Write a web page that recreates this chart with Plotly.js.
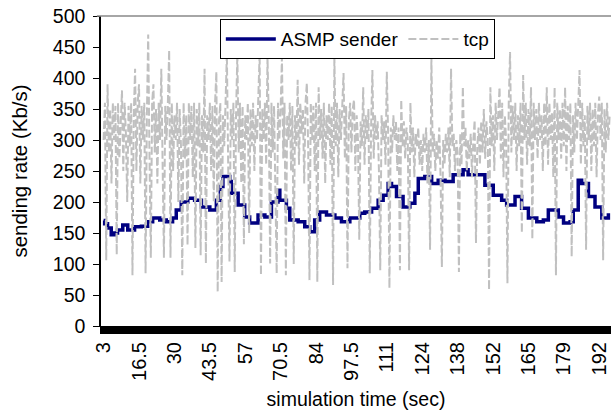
<!DOCTYPE html>
<html>
<head>
<meta charset="utf-8">
<script src="https://cdn.plot.ly/plotly-3.0.1.min.js"></script>
<style>html,body{margin:0;padding:0;background:#fff;}#chart{width:611px;height:415px;}</style>
</head>
<body>
<div id="chart"></div>
<script>
// x-axis tick positions (sec) and their printed labels
const tickTimes = [3, 16.5, 30, 43.5, 57, 70.5, 84, 97.5, 111, 124.5, 138, 151.5, 165, 178.5, 192];
const tickLabels = ['3','16.5','30','43.5','57','70.5','84','97.5','111','124','138','152','165','179','192'];

// tcp sending rate (Kb/s), sampled every 0.5 s starting at 3 s
const tcpStart = 3;
const tcpStep = 0.5;
const tcpRate = [
  300,360,106,390,280,350,230,360,300,355,
  115,360,270,340,380,250,360,310,200,355,
  290,360,82,340,415,250,360,390,230,355,
  300,360,85,340,470,270,110,360,390,280,
  350,230,360,300,415,260,110,355,300,360,
  445,110,360,250,340,300,360,200,350,290,
  82,360,270,340,130,360,300,355,240,360,
  126,350,290,360,114,340,280,415,101,340,
  300,360,250,355,200,360,410,55,330,360,
  71,340,290,360,440,260,104,350,300,360,
  87,340,440,280,360,230,355,132,340,300,
  360,150,350,290,360,250,340,300,360,440,
  82,350,300,360,260,434,330,101,360,280,
  355,240,85,360,300,350,434,270,360,82,
  340,300,360,250,355,100,340,290,397,260,
  360,310,350,230,360,392,290,74,360,300,
  355,250,360,71,385,300,350,270,360,230,
  340,300,360,260,355,66,437,290,360,240,
  350,300,360,408,270,355,93,330,360,280,
  350,365,250,340,300,139,330,290,385,260,
  340,300,350,85,320,413,270,340,300,330,
  250,90,340,300,330,260,410,310,61,320,
  280,340,300,330,250,320,90,365,290,330,
  270,320,300,90,360,280,320,240,310,290,
  320,260,300,250,310,280,320,230,300,123,
  435,280,310,250,300,270,320,240,95,300,
  260,310,280,320,240,415,290,310,250,300,
  280,87,310,260,386,290,320,250,300,270,
  310,240,300,332,134,290,320,260,330,280,
  350,270,330,300,58,385,290,340,250,360,
  300,350,385,270,360,240,340,300,69,360,
  442,280,355,300,360,250,340,290,360,150,
  405,300,360,260,350,290,385,140,360,300,
  350,270,360,300,340,250,360,290,385,260,
  360,300,345,240,385,82,360,300,350,270,
  360,290,385,250,355,300,360,112,340,280,
  360,300,350,413,260,360,290,340,123,355,
  300,360,250,350,290,360,240,340,370,300,
  360,106,350,280,360,300,340
];
const tcpTime = tcpRate.map((_, i) => tcpStart + i * tcpStep);

// ASMP sender rate (Kb/s) read at these times (sec)
const asmpTime = [
  3,3.4,4.5,5.9,7,8.3,10.3,12.2,14.8,17.4,
  19.8,21.7,24.4,26.9,29.3,30.7,32.6,35.1,37.7,40.3,
  43.5,46,47.5,48.5,51.1,51.7,54.3,56.8,58.7,61.9,
  64.5,67,69.5,70.2,72.7,74,77.2,79.7,81.6,83.5,
  85.4,88,91.2,93.7,96.9,100.7,102.6,105.2,107.7,109.6,
  111.5,112.8,114.7,117.2,119.8,121.7,123,125.5,128.1,130.6,
  133.2,136.3,140.1,142,145.2,148.4,151.6,154.8,156.7,159.9,
  162.4,165,168.2,170.7,172.6,174.5,176.4,178.4,180.9,182.1,
  184,185.3,187.9,190.4,193,195.5
];
const asmpRate = [
  170,165,158,147,150,155,163,155,160,161,
  168,174,171,168,174,187,200,206,203,192,
  187,203,225,241,233,214,195,176,166,179,
  176,200,219,203,190,171,168,160,152,171,
  184,179,174,168,174,182,184,190,203,211,
  230,225,209,192,198,214,238,241,230,235,
  233,244,252,244,244,227,211,203,195,209,
  190,174,168,171,187,187,176,166,168,187,
  235,230,209,192,174,182
];

const FONT = '"Liberation Sans", Arial, sans-serif';

const traces = [
  {
    x: asmpTime, y: asmpRate, type: 'scatter', mode: 'lines', name: 'ASMP sender',
    line: {color: '#000080', width: 3.5, shape: 'hv'}
  },
  {
    x: tcpTime, y: tcpRate, type: 'scatter', mode: 'lines', name: 'tcp',
    line: {color: '#c0c0c0', width: 2, dash: '8px,3px'}
  }
];

const layout = {
  width: 611, height: 415,
  margin: {l: 101, r: 0, t: 16, b: 89},
  paper_bgcolor: '#fff', plot_bgcolor: '#fff',
  font: {family: FONT, size: 19, color: '#000'},
  showlegend: true,
  legend: {
    orientation: 'h', x: 0.233, y: 0.99, xanchor: 'left', yanchor: 'top',
    bgcolor: '#fff', bordercolor: '#000', borderwidth: 1,
    font: {family: FONT, size: 19, color: '#000'},
    itemwidth: 50, traceorder: 'normal', tracegroupgap: 0
  },
  xaxis: {
    range: [2, 196.5],
    tickmode: 'array', tickvals: tickTimes, ticktext: tickLabels,
    tickangle: -90, ticks: 'outside', ticklen: 7, tickcolor: '#000', tickwidth: 2,
    minor: {tickmode: 'linear', tick0: 3, dtick: 0.5, ticks: 'outside', ticklen: 7, tickcolor: '#000', tickwidth: 2, showgrid: false},
    showline: true, linecolor: '#000', linewidth: 1,
    showgrid: false, zeroline: false,
    tickfont: {family: FONT, size: 20, color: '#000'},
    title: {text: 'simulation time (sec)', font: {family: FONT, size: 19.5, color: '#000'}, standoff: 12}
  },
  yaxis: {
    range: [0, 500], dtick: 50, tick0: 0,
    ticks: 'outside', ticklen: 6, tickcolor: '#000',
    showline: true, linecolor: '#000', linewidth: 1.5,
    showgrid: false, zeroline: false,
    ticklabelstandoff: 4,
    tickfont: {family: FONT, size: 19.5, color: '#000'},
    title: {text: 'sending rate (Kb/s)', font: {family: FONT, size: 20.5, color: '#000'}, standoff: 20}
  },
  shapes: [
    {type: 'line', xref: 'paper', yref: 'paper', x0: -0.008, x1: 1, y0: 1, y1: 1, line: {color: '#888', width: 1.5}}
  ]
};

Plotly.newPlot('chart', traces, layout, {displayModeBar: false, responsive: false});
</script>
</body>
</html>
